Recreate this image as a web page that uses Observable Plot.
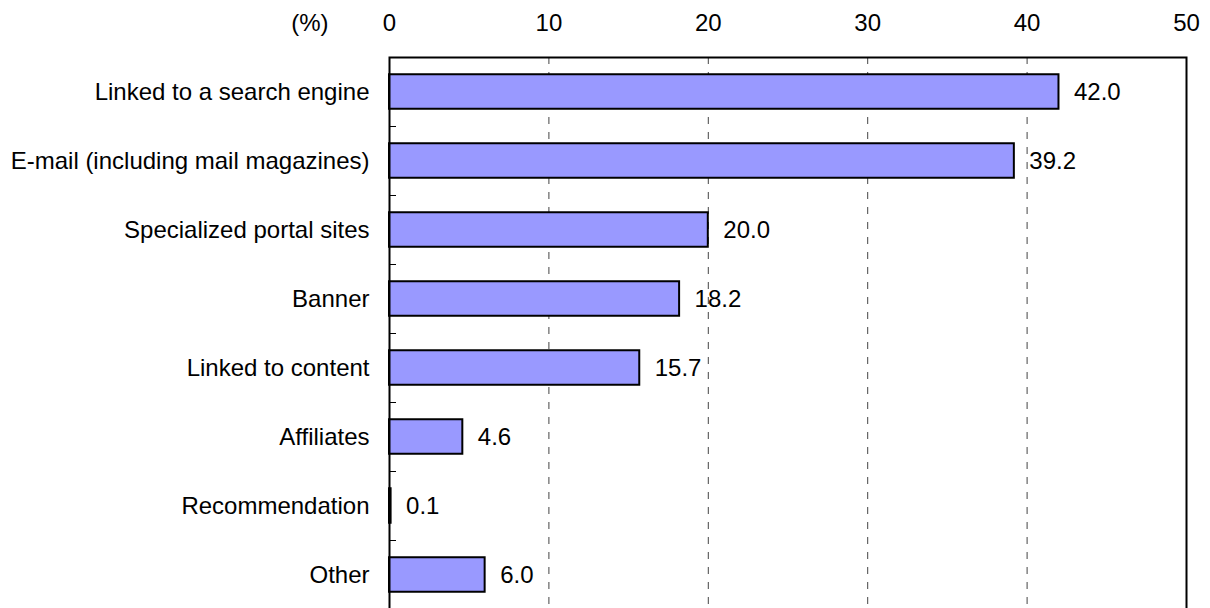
<!DOCTYPE html>
<html>
<head>
<meta charset="utf-8">
<script src="https://cdn.jsdelivr.net/npm/d3@7"></script>
<script src="https://cdn.jsdelivr.net/npm/@observablehq/plot@0.6"></script>
<style>
  html, body { margin: 0; padding: 0; background: #fff; overflow: hidden; }
  #chart svg { display: block; }
</style>
</head>
<body>
<div id="chart"></div>
<script>
const categories = [
  "Linked to a search engine",
  "E-mail (including mail magazines)",
  "Specialized portal sites",
  "Banner",
  "Linked to content",
  "Affiliates",
  "Recommendation",
  "Other"
];
const values = [42.0, 39.2, 20.0, 18.2, 15.7, 4.6, 0.1, 6.0];
const xTicks = [0, 10, 20, 30, 40, 50];
const gridTicks = [10, 20, 30, 40];
const unitLabel = "(%)";

const data = categories.map((c, i) => ({category: c, value: values[i]}));

const chart = Plot.plot({
  width: 1210,
  height: 610,
  marginLeft: 389,
  marginRight: 24,
  marginTop: 57,
  marginBottom: 1,
  style: {fontFamily: "'Liberation Sans', Arial, sans-serif", fontSize: "24px", color: "#000", background: "#fff"},
  x: {domain: [0, 50], label: null},
  y: {domain: categories, paddingInner: 0.5, paddingOuter: 0.25, round: false, label: null},
  marks: [
    Plot.ruleX(gridTicks, {stroke: "#444", strokeWidth: 1, strokeDasharray: "7,8"}),
    Plot.barX(data, {x: "value", y: "category", fill: "#9999ff", stroke: "#000", strokeWidth: 2}),
    Plot.text(data, {x: "value", y: "category", text: d => d.value.toFixed(1), textAnchor: "start", dx: 15, fill: "#000"}),
    Plot.axisX({anchor: "top", ticks: xTicks, tickSize: 0, tickPadding: 27, label: null, fill: "#000"}),
    Plot.axisY({anchor: "left", tickSize: 0, tickPadding: 20, label: null, fill: "#000"}),
    Plot.axisY({anchor: "left", ticks: categories.slice(1), tickSize: -7, dy: -34.5, tickFormat: () => "", label: null, stroke: "#000"}),
    Plot.text([unitLabel], {frameAnchor: "top-left", dx: -61, dy: -34, lineAnchor: "middle", textAnchor: "end", fill: "#000"}),
    Plot.frame({stroke: "#000", strokeWidth: 2})
  ]
});
document.getElementById("chart").appendChild(chart);
</script>
</body>
</html>
